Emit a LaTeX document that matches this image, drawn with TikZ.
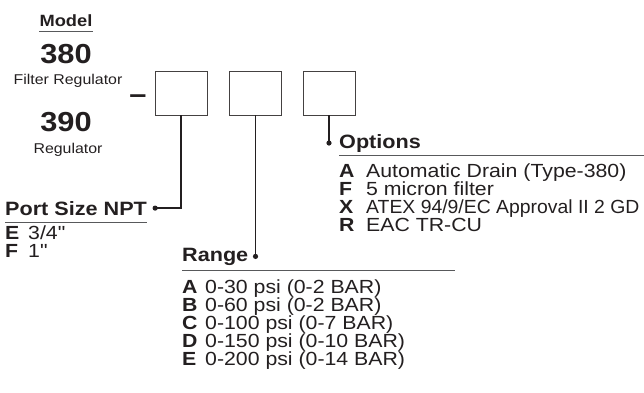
\documentclass[tikz,border=0pt]{standalone}
\usepackage{fontspec}
\setmainfont{Liberation Sans}[FakeStretch=1.12,Ligatures=TeXOff]
\newfontfamily\narrowsans{Liberation Sans}[FakeStretch=1.02,Ligatures=TeXOff]
\definecolor{ink}{HTML}{231F20}
\definecolor{rulegray}{HTML}{58595B}

\begin{document}
\begin{tikzpicture}[x=1pt,y=-1pt,
    txt/.style={inner sep=0pt,anchor=base west,text=ink,
        font=\fontsize{19}{18}\selectfont},
    head/.style={txt,font=\fontsize{19.3}{20}\selectfont\bfseries},
    codebox/.style={draw=ink!85,line width=0.8pt,minimum width=52pt,
        minimum height=44pt,inner sep=0pt},
    leader/.style={draw=ink,line width=1.8pt},
    underrule/.style={draw=rulegray,line width=1pt}]
    %% Ordering code

    % Parameters
    \def\rowgap{18}
    \def\dotsize{2.6pt}
    \def\codekey#1{\makebox[23pt][l]{\textbf{#1}}}
    \def\optkey#1{\makebox[27pt][l]{\textbf{#1}}}

    \useasboundingbox (0,0) rectangle (644,392);

    % Model
    \node[txt,anchor=base,font=\fontsize{16.3}{16}\selectfont\bfseries]
    (model) at (66,26) {Model};
    \draw[underrule]
    ([yshift=-5pt]model.base west)
    -- ([yshift=-5pt]model.base east);

    \node[txt,anchor=base,font=\fontsize{27.5}{28}\selectfont\bfseries]
    (num380) at (66,63) {380};
    \node[txt,anchor=base,font=\fontsize{14.2}{14}\selectfont]
    (filtreg) at (68,84) {Filter Regulator};
    \node[txt,anchor=base,font=\fontsize{27.5}{28}\selectfont\bfseries]
    (num390) at (66,131) {390};
    \node[txt,anchor=base,font=\fontsize{14.2}{14}\selectfont]
    (reg) at (68,153) {Regulator};

    \node[txt,anchor=base,font=\fontsize{27.5}{28}\selectfont\bfseries]
    (dash) at (138,103) {–};

    % Boxes
    \node[codebox] (box1) at (181,93) {};
    \node[codebox] (box2) at (255.5,93) {};
    \node[codebox] (box3) at (329,93) {};

    % Headings
    \node[head] (port) at (5,215) {Port Size NPT};
    \node[head] (range) at (182,261) {Range};
    \node[head] (options) at (339,148) {Options};

    \draw[underrule]
    ([yshift=-7pt]port.base west)
    -- ([yshift=-7pt]port.base east);
    \draw[underrule]
    ([yshift=-9pt]range.base west)
    -- ++(273,0);
    \draw[underrule]
    ([yshift=-7pt]options.base west)
    -- ++(305,0);

    % Leaders
    \coordinate (portdot) at ([xshift=8pt]port.east);
    \coordinate (rangedot) at (box2.south |- range.east);
    \coordinate (optdot) at (box3.south |- options.west);

    \draw[leader] (box1.south) |- (portdot);
    \draw[leader] (box2.south) -- (rangedot);
    \draw[leader] (box3.south) -- (optdot);

    \fill[ink] (portdot) circle (\dotsize);
    \fill[ink] (rangedot) circle (\dotsize);
    \fill[ink] (optdot) circle (\dotsize);

    % Port sizes
    \node[txt] (portE) at (5,239) {\codekey{E}3/4"};
    \node[txt] (portF) at (5,239+\rowgap) {\codekey{F}1"};

    % Ranges
    \node[txt] (rangeA) at (182,293) {\codekey{A}0-30 psi (0-2 BAR)};
    \node[txt] (rangeB) at (182,293+\rowgap) {\codekey{B}0-60 psi (0-2 BAR)};
    \node[txt] (rangeC) at (182,293+2*\rowgap) {\codekey{C}0-100 psi (0-7 BAR)};
    \node[txt] (rangeD) at (182,293+3*\rowgap) {\codekey{D}0-150 psi (0-10 BAR)};
    \node[txt] (rangeE) at (182,293+4*\rowgap) {\codekey{E}0-200 psi (0-14 BAR)};

    % Options
    \node[txt] (optA) at (339,177) {\optkey{A}Automatic Drain (Type-380)};
    \node[txt] (optF) at (339,177+\rowgap) {\optkey{F}5 micron filter};
    \node[txt] (optX) at (339,177+2*\rowgap) {\optkey{X}\narrowsans ATEX 94/9/EC Approval II 2 GD};
    \node[txt] (optR) at (339,177+3*\rowgap) {\optkey{R}EAC TR-CU};

\end{tikzpicture}
\end{document}
